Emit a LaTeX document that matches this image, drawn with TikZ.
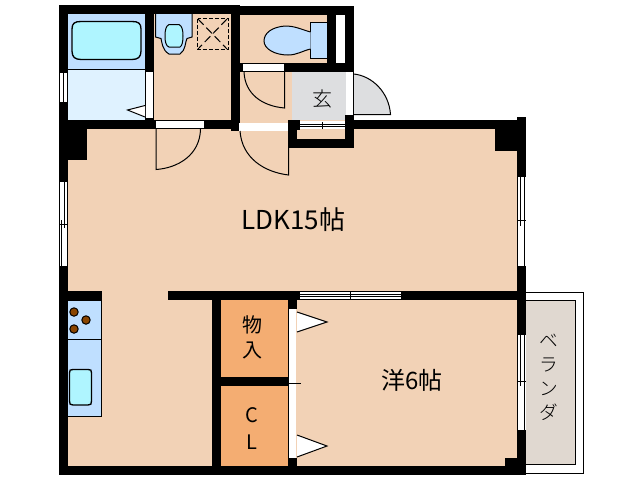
\documentclass[tikz,border=0pt]{standalone}
\usepackage{fontspec}
\setmainfont{Noto Sans CJK JP}
\newfontfamily\lightcjk{Noto Sans CJK JP Light}
\definecolor{peach}{HTML}{F2D2B6}
\definecolor{fixblue}{HTML}{BFDFFF}
\definecolor{palebl}{HTML}{DFF2FF}
\definecolor{aqua}{HTML}{AFF5FF}
\definecolor{entry}{HTML}{DDDEE0}
\definecolor{closet}{HTML}{F4AD72}
\definecolor{veranda}{HTML}{E0D8D0}
\definecolor{burner}{HTML}{8A4500}
\tikzset{
  wall/.style={fill=black,draw=none},
  opening/.style={fill=white,draw=none},
  thin line/.style={draw=black,line width=0.75pt},
  fixture/.style={draw=black,line width=0.75pt,fill=fixblue},
  basin/.style={draw=black,line width=1pt,fill=aqua},
  roomlabel/.style={font=\fontsize{18pt}{20pt}\selectfont,inner sep=0pt},
  ldklabel/.style={font=\fontsize{19.5pt}{22pt}\selectfont,inner sep=0pt},
  closetlabel/.style={font=\fontsize{15pt}{18pt}\selectfont,inner sep=0pt},
  entrylabel/.style={font=\lightcjk\fontsize{15pt}{18pt}\selectfont,inner sep=0pt},
  verandalabel/.style={font=\lightcjk\fontsize{14pt}{15pt}\selectfont,inner sep=0pt}
}
\begin{document}
\begin{tikzpicture}[x=0.75pt,y=-0.75pt]
\useasboundingbox (0,0) rectangle (638,480);
\fill[white] (0,0) rectangle (638,480);
% veranda
\fill[white] (526,292) rectangle (583,473);
\draw[thin line] (526,292.5) -- (583,292.5) -- (583,473) -- (526,473);
\draw[thin line,fill=veranda] (526,300.5) -- (575.5,300.5) -- (575.5,464) -- (526,464);
% floors
\fill[peach] (59,120) rectangle (526,470);
\fill[peach] (150,10) rectangle (235,125);
\fill[peach] (235,10) rectangle (330,65);
\fill[peach] (235,65) rectangle (295,125);
\fill[palebl] (68,69) rectangle (146,120);
\fill[fixblue] (68,14) rectangle (146,69);
\draw[thin line] (68,69.5) -- (146,69.5);
\fill[entry] (292,72) rectangle (346,120);
\fill[closet] (221,300) rectangle (288,466);
% tub
\draw[basin] (72,29) .. controls (72,23) and (75,21.5) .. (81,21.5) -- (132,21.5) .. controls (138,21.5) and (141,23) .. (141,29) -- (141,51) .. controls (141,57) and (138,59.5) .. (132,59.5) -- (81,59.5) .. controls (75,59.5) and (72,57) .. (72,51) -- cycle;
% wash basin
\draw[fixture] (155.5,14) -- (155.5,37) -- (161,38.5) .. controls (162,42) and (162,50) .. (169,54) -- (180,54) .. controls (186,50) and (185,42) .. (187,38.5) -- (192,37) -- (192,14);
\draw[basin,line width=0.75pt] (169,24.5) -- (179,24.5) .. controls (182,26) and (183,30) .. (183,36) .. controls (183,42) and (182,46) .. (180,47) -- (169,47) .. controls (166,46) and (165,42) .. (165,36) .. controls (165,30) and (166,26) .. (169,24.5) -- cycle;
% floor drain
\draw[black,line width=0.75pt,dash pattern=on 3pt off 1.5pt] (197.5,18.5) rectangle (228,49.5);
\draw[black,line width=0.75pt,dash pattern=on 6pt off 3pt] (198,19) -- (227,49) (227,19) -- (198,49);
% toilet
\draw[fixture] (310.5,22.5) rectangle (327,58.5);
\draw[fixture] (310.5,32) .. controls (300,29) and (295,26) .. (285,26) .. controls (272,27) and (264,33) .. (264,41) .. controls (264,49) and (275,55) .. (288,55) .. controls (297,55) and (302,51) .. (310.5,49);
% kitchen
\draw[fixture] (68,300) -- (101.5,300) -- (101.5,416) -- (68,416);
\draw[thin line] (68,339.5) -- (101.5,339.5);
\foreach \bx/\by in {74/312,86/320,74/329}
  \draw[black,line width=0.75pt,fill=burner] (\bx,\by) circle (4.2);
\draw[basin] (69.5,373) .. controls (69.5,370) and (70,369.5) .. (73,369.5) -- (88,369.5) .. controls (91,369.5) and (91.5,370) .. (91.5,373) -- (91.5,401) .. controls (91.5,404) and (91,405) .. (88,405) -- (73,405) .. controls (70,405) and (69.5,404) .. (69.5,401) -- cycle;
% walls
\fill[wall] (59,5) rectangle (68,475);
\fill[wall] (59,5) rectangle (240,14);
\fill[wall] (238,6) rectangle (354,15);
\fill[wall] (145,14) rectangle (154,120);
\fill[wall] (231,14) rectangle (240,131);
\fill[wall] (327,15) rectangle (336,63);
\fill[wall] (345,6) rectangle (354,72);
\fill[wall] (240,63) rectangle (354,72);
\fill[wall] (59,120) rectangle (238,129);
\fill[wall] (59,129) rectangle (87,160);
\fill[wall] (345,115) rectangle (354,147);
\fill[wall] (288,120) rectangle (300,130);
\fill[wall] (288,120) rectangle (297,148);
\fill[wall] (288,139) rectangle (354,148);
\fill[wall] (345,120) rectangle (526,129);
\fill[wall] (495,129) rectangle (517,151);
\fill[wall] (517,117) rectangle (526,475);
\fill[wall] (59,466) rectangle (526,475);
\fill[wall] (505,458) rectangle (517,466);
\fill[wall] (68,291) rectangle (102,300);
\fill[wall] (168,291) rectangle (517,300);
\fill[wall] (212,300) rectangle (221,466);
\fill[wall] (221,377) rectangle (288,386);
\fill[wall] (288,300) rectangle (297,309);
\fill[wall] (288,458) rectangle (297,466);
% openings
\fill[opening] (59,72) rectangle (67,103);
\draw[thin line] (59,72.5) -- (67,72.5) (59,102.5) -- (67,102.5) (59.5,72) -- (59.5,103) (63,72) -- (63,103) (67,72) -- (67,103);
\fill[opening] (59,182) rectangle (67,266);
\draw[thin line] (59.5,182) -- (59.5,266) (67,182) -- (67,266) (64.3,182) -- (64.3,228) (61,220) -- (61,266) (59,224) -- (67,224);
\fill[opening] (146,72) rectangle (153,118);
\fill[opening] (156,120.5) rectangle (204,128);
\fill[opening] (243,64) rectangle (284,71);
\fill[opening] (336,15) rectangle (345,63);
\fill[opening] (346,72) rectangle (353,115);
\draw[thin line] (353.5,72) -- (353.5,115);
\fill[opening] (239,123) rectangle (288,131);
\fill[opening] (300,121) rectangle (345,129);
\draw[thin line] (300,124.5) -- (345,124.5) (300,126.5) -- (345,126.5) (322.5,122) -- (322.5,129);
\fill[opening] (518,176) rectangle (526,266);
\draw[thin line] (518,176.5) -- (526,176.5) (520,176) -- (520,226) (524,176) -- (524,266) (518,220) -- (526,220);
\fill[opening] (518,334) rectangle (526,430);
\draw[thin line] (518,334.5) -- (526,334.5) (520,334) -- (520,386) (524,334) -- (524,430) (518,381) -- (526,381);
\fill[opening] (300,292) rectangle (401,299);
\draw[thin line] (300,294.5) -- (401,294.5) (300,296.5) -- (401,296.5) (350,292) -- (350,299);
\fill[opening] (289,309) rectangle (296,458);
\draw[thin line] (288.5,309) -- (288.5,458) (288,383.5) -- (301,383.5);
% doors
\draw[thin line] (156,128) -- (156,169.5) .. controls (178,168) and (200,155) .. (200.5,129);
\draw[thin line] (284.5,72) -- (284.5,108) .. controls (262,106) and (245,94) .. (244,72);
\draw[thin line] (288.5,131) -- (288.5,175) .. controls (264,172) and (242,158) .. (240,131);
\draw[thin line,fill=entry] (354,74) .. controls (372,76) and (389,92) .. (390.5,114.5) -- (354,114.5);
\draw[thin line,fill=white] (145,105.5) -- (127.5,110) -- (145,117);
\draw[thin line,fill=white] (297,312) -- (327,322) -- (297,332);
\draw[thin line,fill=white] (297,435) -- (327,446) -- (297,457);
% labels
\node[ldklabel] (ldk) at (293.5,220) {LDK15帖};
\node[roomlabel] (yo) at (412,380) {洋6帖};
\node[closetlabel] (mono) at (252,325) {物};
\node[closetlabel] (iri) at (252,350) {入};
\node[closetlabel] (c) at (252,415) {C};
\node[closetlabel] (l) at (252,442) {L};
\node[entrylabel] (gen) at (322,99) {玄};
\node[verandalabel] (be) at (549,341) {ベ};
\node[verandalabel] (ra) at (549,365) {ラ};
\node[verandalabel] (n) at (549,389) {ン};
\node[verandalabel] (da) at (549,412) {ダ};
\end{tikzpicture}
\end{document}
